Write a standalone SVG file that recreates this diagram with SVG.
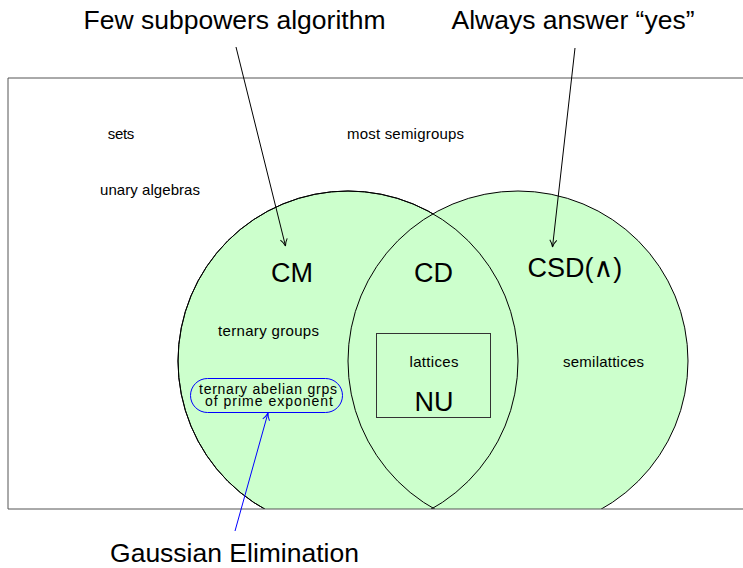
<svg xmlns="http://www.w3.org/2000/svg" width="743" height="568" viewBox="0 0 743 568">
<style>
text{font-family:"Liberation Sans","DejaVu Sans",sans-serif;fill:#000;text-anchor:middle}
.big{font-size:26.5px}
.cls{font-size:27px}
.sm{font-size:15px}
.tiny{font-size:14px}
.circ{fill:#ccffcc;stroke:#000;stroke-width:1}
.con{fill:none;stroke:#000;stroke-width:1}
.blue{fill:none;stroke:#0000ff;stroke-width:1}
</style>
<defs>
<clipPath id="clip"><rect x="0" y="0" width="743" height="509"/></clipPath>
<marker id="ah" viewBox="0 0 10 10" refX="9" refY="5" markerWidth="10" markerHeight="10" markerUnits="userSpaceOnUse" orient="auto">
<path d="M2,1.5 Q5,4 9,5 Q5,6 2,8.5" fill="none" stroke="#000" stroke-width="1"/>
</marker>
<marker id="ahb" viewBox="0 0 10 10" refX="9" refY="5" markerWidth="10" markerHeight="10" markerUnits="userSpaceOnUse" orient="auto">
<path d="M2,1.5 Q5,4 9,5 Q5,6 2,8.5" fill="none" stroke="#0000ff" stroke-width="1"/>
</marker>
</defs>
<rect width="743" height="568" fill="#fff"/>
<g id="circles" clip-path="url(#clip)">
<circle id="cm-circle" class="circ" cx="348" cy="361" r="170"/>
<circle id="csd-circle" class="circ" cx="518" cy="361" r="170"/>
<circle cx="348" cy="361" r="170" fill="none" stroke="#000" stroke-width="1"/>
</g>
<g id="universe">
<polyline points="743,78 8,78 8,509 743,509" fill="none" stroke="#555" stroke-width="1"/>
</g>
<g id="nu-box">
<rect x="376.5" y="333.5" width="114" height="84" fill="none" stroke="#333" stroke-width="1"/>
<text class="sm" x="434" y="367" textLength="49">lattices</text>
<text class="cls" x="434" y="411">NU</text>
</g>
<g id="abelian">
<rect x="190.5" y="378.5" width="152" height="34" rx="17" ry="17" class="blue"/>
<text class="tiny" x="268" y="394" textLength="138">ternary abelian grps</text>
<text class="tiny" x="269" y="405.5" textLength="128">of prime exponent</text>
</g>
<g id="labels">
<text class="sm" x="121" y="139" textLength="26.5">sets</text>
<text class="sm" x="405.5" y="139" textLength="117">most semigroups</text>
<text class="sm" x="150" y="195" textLength="100">unary algebras</text>
<text class="cls" x="292" y="281.5">CM</text>
<text class="cls" x="433.5" y="281.5">CD</text>
<text class="cls" x="575" y="277">CSD(∧)</text>
<text class="sm" x="268.5" y="336" textLength="101">ternary groups</text>
<text class="sm" x="603.5" y="367" textLength="81">semilattices</text>
</g>
<g id="few">
<text class="big" x="234.5" y="28.5">Few subpowers algorithm</text>
</g>
<g id="yes">
<text class="big" x="573" y="28.5">Always answer “yes”</text>
</g>
<g id="gauss">
<text class="big" x="234.5" y="562">Gaussian Elimination</text>
</g>
<g id="connectors">
<line x1="236" y1="47" x2="285.5" y2="246" class="con" marker-end="url(#ah)"/>
<line x1="575" y1="48" x2="552.5" y2="247" class="con" marker-end="url(#ah)"/>
<line x1="235" y1="531" x2="268" y2="413" class="blue" marker-end="url(#ahb)"/>
</g>
</svg>
